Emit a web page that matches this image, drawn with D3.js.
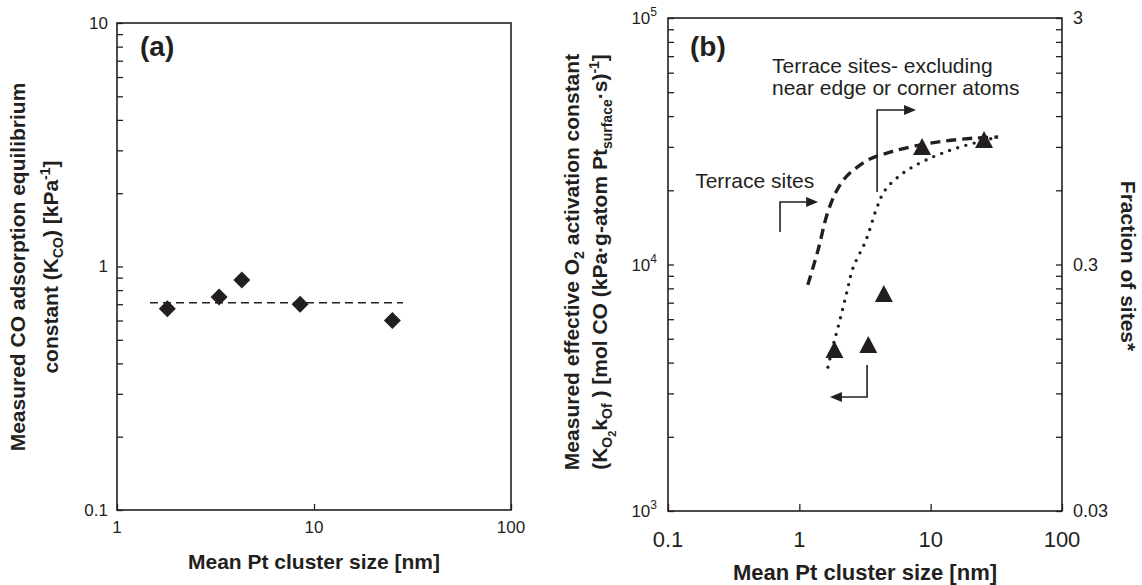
<!DOCTYPE html>
<html><head><meta charset="utf-8">
<script src="https://cdn.jsdelivr.net/npm/d3@7"></script>
<style>
body{margin:0;background:#fff;}
svg{display:block;font-family:"Liberation Sans",Arial,Helvetica,sans-serif;}
</style></head><body>
<svg id="c" width="1142" height="585"></svg>
<script>
// ---------- data ----------
// Panel (a): CO adsorption equilibrium constant vs cluster size
const sizeA = [1.8, 3.3, 4.3, 8.5, 25];
const kCO = [0.67, 0.75, 0.88, 0.70, 0.60];
const kCOAvgX = [1.47, 28.3];
const kCOAvgY = [0.71, 0.71];
// Panel (b): effective O2 activation constant vs cluster size
const sizeB = [1.85, 3.35, 4.4, 8.6, 25.5];
const kO2 = [4500, 4710, 7590, 30000, 32000];
// Fraction of sites curves (right axis)
const terraceX = [1.16, 1.39, 1.63, 1.90, 2.23, 2.70, 3.45, 4.91, 7.60, 12.9, 21.8, 32.6];
const terraceF = [0.248, 0.344, 0.481, 0.590, 0.673, 0.738, 0.804, 0.857, 0.908, 0.951, 0.977, 0.987];
const terraceExclX = [1.65, 1.81, 2.04, 2.31, 2.56, 3.22, 3.91, 4.50, 6.17, 9.23, 15.9, 32.6];
const terraceExclF = [0.115, 0.141, 0.179, 0.234, 0.290, 0.377, 0.513, 0.601, 0.705, 0.796, 0.891, 0.987];
// tick labels
const xTicksA = [1, 10, 100];
const yTicksA = [0.1, 1, 10];
const xTicksB = [0.1, 1, 10, 100];
const yTicksB = [1e3, 1e4, 1e5];
const yTicksBExp = ["3", "4", "5"];
const yTicksB2 = [0.03, 0.3, 3];
// annotation arrows (data units: size, left-axis value)
const arrowTerrace = [[0.713, 13550], [0.713, 17930], [1.39, 17930]];
const arrowExcl = [[3.91, 19680], [3.91, 42360], [7.74, 42360]];
const arrowTri = [[3.28, 3910], [3.28, 2900], [1.71, 2900]];

// ---------- setup ----------
const ink = "#231f20";
const svg = d3.select("#c");

const xA = d3.scaleLog().domain([1, 100]).range([117, 511]);
const yA = d3.scaleLog().domain([0.1, 10]).range([510, 23]);
const xB = d3.scaleLog().domain([0.1, 100]).range([668, 1062]);
const yB = d3.scaleLog().domain([1e3, 1e5]).range([511, 18]);
const yB2 = d3.scaleLog().domain([0.03, 3]).range([511, 18]);

function rich(sel, segs) {
  let cur = 0;
  segs.forEach(s => {
    const sh = s.s || 0;
    const t = sel.append("tspan").attr("dy", sh - cur).text(s.t);
    if (s.f) t.attr("font-size", s.f);
    cur = sh;
  });
}

// ---------- Panel (a) ----------
const gA = svg.append("g");
gA.append("g").attr("transform", `translate(${xA.range()[0]},0)`)
  .call(d3.axisLeft(yA).tickValues(yA.ticks()).tickSize(-6).tickFormat(""))
  .call(g => g.select(".domain").remove())
  .call(g => g.selectAll("line").attr("stroke", ink).attr("stroke-width", 1.3));
gA.append("g").attr("transform", `translate(0,${yA.range()[0]})`)
  .call(d3.axisBottom(xA).tickValues(xTicksA).tickSize(-6).tickFormat(""))
  .call(g => g.select(".domain").remove())
  .call(g => g.selectAll("line").attr("stroke", ink).attr("stroke-width", 1.3));
gA.append("rect").attr("x", xA.range()[0]).attr("y", yA.range()[1])
  .attr("width", xA.range()[1] - xA.range()[0]).attr("height", yA.range()[0] - yA.range()[1])
  .attr("fill", "none").attr("stroke", ink).attr("stroke-width", 1.6);
gA.selectAll("text.yl").data(yTicksA).join("text").attr("class", "yl")
  .attr("x", 108).attr("y", d => yA(d)).attr("dy", "0.35em")
  .attr("text-anchor", "end").attr("font-size", 17).attr("fill", ink).text(d => d);
gA.selectAll("text.xl").data(xTicksA).join("text").attr("class", "xl")
  .attr("x", d => xA(d)).attr("y", 533)
  .attr("text-anchor", "middle").attr("font-size", 17).attr("fill", ink).text(d => d);
gA.append("text").attr("x", 314).attr("y", 569).attr("text-anchor", "middle")
  .attr("font-size", 21).attr("font-weight", "bold").attr("fill", ink)
  .text("Mean Pt cluster size [nm]");
gA.append("text").attr("transform", "translate(25,267) rotate(-90)").attr("text-anchor", "middle")
  .attr("font-size", 21).attr("font-weight", "bold").attr("fill", ink)
  .text("Measured CO adsorption equilibrium");
rich(gA.append("text").attr("transform", "translate(58,267) rotate(-90)").attr("text-anchor", "middle")
  .attr("font-size", 21).attr("font-weight", "bold").attr("fill", ink), [
  {t: "constant (K"}, {t: "CO", s: 5, f: 14}, {t: ") [kPa"}, {t: "-1", s: -8, f: 14}, {t: "]"}
]);
gA.append("text").attr("x", 140).attr("y", 56).attr("font-size", 28).attr("font-weight", "bold")
  .attr("fill", ink).text("(a)");
gA.append("path").datum(kCOAvgX.map((x, i) => [x, kCOAvgY[i]]))
  .attr("d", d3.line().x(d => xA(d[0])).y(d => yA(d[1])))
  .attr("fill", "none").attr("stroke", ink).attr("stroke-width", 1.6).attr("stroke-dasharray", "8,5");
gA.selectAll("path.dm").data(sizeA).join("path").attr("class", "dm")
  .attr("transform", (d, i) => `translate(${xA(d)},${yA(kCO[i])})`)
  .attr("d", "M0,-8.5L8.5,0L0,8.5L-8.5,0Z").attr("fill", ink);

// ---------- Panel (b) ----------
const gB = svg.append("g");
gB.append("g").attr("transform", `translate(${xB.range()[0]},0)`)
  .call(d3.axisLeft(yB).tickValues(yB.ticks()).tickSize(-6).tickFormat(""))
  .call(g => g.select(".domain").remove())
  .call(g => g.selectAll("line").attr("stroke", ink).attr("stroke-width", 1.3));
const rightTicks = yB.ticks().map(v => v * 0.03 / 1000);
gB.append("g").attr("transform", `translate(${xB.range()[1]},0)`)
  .call(d3.axisRight(yB2).tickValues(rightTicks).tickSize(-6).tickFormat(""))
  .call(g => g.select(".domain").remove())
  .call(g => g.selectAll("line").attr("stroke", ink).attr("stroke-width", 1.3));
gB.append("g").attr("transform", `translate(0,${yB.range()[0]})`)
  .call(d3.axisBottom(xB).tickValues(xTicksB).tickSize(-7).tickFormat(""))
  .call(g => g.select(".domain").remove())
  .call(g => g.selectAll("line").attr("stroke", ink).attr("stroke-width", 1.3));
gB.append("rect").attr("x", xB.range()[0]).attr("y", yB.range()[1])
  .attr("width", xB.range()[1] - xB.range()[0]).attr("height", yB.range()[0] - yB.range()[1])
  .attr("fill", "none").attr("stroke", ink).attr("stroke-width", 1.6);
gB.selectAll("text.yl").data(yTicksB).join("text").attr("class", "yl")
  .attr("x", 657).attr("y", d => yB(d) + 6)
  .attr("text-anchor", "end").attr("font-size", 17).attr("fill", ink)
  .each(function (d, i) {
    const t = d3.select(this);
    t.append("tspan").text("10");
    t.append("tspan").attr("dy", -8).attr("font-size", 12).text(yTicksBExp[i]);
  });
gB.selectAll("text.yr").data(yTicksB2).join("text").attr("class", "yr")
  .attr("x", 1073).attr("y", d => yB2(d)).attr("dy", "0.35em")
  .attr("font-size", 18).attr("fill", ink).text(d => d);
gB.selectAll("text.xl").data(xTicksB).join("text").attr("class", "xl")
  .attr("x", d => xB(d)).attr("y", 547)
  .attr("text-anchor", "middle").attr("font-size", 22).attr("fill", ink).text(d => d);
gB.append("text").attr("x", 865).attr("y", 580).attr("text-anchor", "middle")
  .attr("font-size", 22).attr("font-weight", "bold").attr("fill", ink)
  .text("Mean Pt cluster size [nm]");
rich(gB.append("text").attr("transform", "translate(579,262) rotate(-90)").attr("text-anchor", "middle")
  .attr("font-size", 21).attr("font-weight", "bold").attr("fill", ink), [
  {t: "Measured effective O"}, {t: "2", s: 5, f: 14}, {t: " activation constant"}
]);
rich(gB.append("text").attr("transform", "translate(607,262) rotate(-90)").attr("text-anchor", "middle")
  .attr("font-size", 21).attr("font-weight", "bold").attr("fill", ink), [
  {t: "(K"}, {t: "O", s: 5, f: 14}, {t: "2", s: 9, f: 11}, {t: "k"}, {t: "Of", s: 5, f: 14},
  {t: " ) [mol CO (kPa·g-atom Pt"}, {t: "surface", s: 5, f: 14}, {t: "·s)"}, {t: "-1", s: -8, f: 14}, {t: "]"}
]);
gB.append("text").attr("transform", "translate(1121,266) rotate(90)").attr("text-anchor", "middle")
  .attr("font-size", 21).attr("font-weight", "bold").attr("fill", ink)
  .text("Fraction of sites*");
gB.append("text").attr("x", 690).attr("y", 56).attr("font-size", 28).attr("font-weight", "bold")
  .attr("fill", ink).text("(b)");

const lineR = d3.line().x(d => xB(d[0])).y(d => yB2(d[1])).curve(d3.curveCatmullRom.alpha(0.5));
gB.append("path").datum(terraceX.map((x, i) => [x, terraceF[i]])).attr("d", lineR)
  .attr("fill", "none").attr("stroke", ink).attr("stroke-width", 3.4).attr("stroke-dasharray", "10,6");
gB.append("path").datum(terraceExclX.map((x, i) => [x, terraceExclF[i]])).attr("d", lineR)
  .attr("fill", "none").attr("stroke", ink).attr("stroke-width", 3.4)
  .attr("stroke-linecap", "round").attr("stroke-dasharray", "0,8.5");
gB.selectAll("path.tr").data(sizeB).join("path").attr("class", "tr")
  .attr("transform", (d, i) => `translate(${xB(d)},${yB(kO2[i])})`)
  .attr("d", "M0,-9L9,8L-9,8Z").attr("fill", ink);

function arrow(pts) {
  const p = pts.map(d => [xB(d[0]), yB(d[1])]);
  const n = p.length;
  const tip = p[n - 1], prev = p[n - 2];
  const dx = tip[0] - prev[0], dy = tip[1] - prev[1];
  const L = Math.hypot(dx, dy), ux = dx / L, uy = dy / L;
  const hl = 12, hw = 5;
  const base = [tip[0] - ux * hl, tip[1] - uy * hl];
  const line = p.slice(0, n - 1).concat([base]);
  gB.append("path").attr("d", d3.line()(line)).attr("fill", "none")
    .attr("stroke", ink).attr("stroke-width", 1.6);
  gB.append("path").attr("d", d3.line()([tip, [base[0] - uy * hw, base[1] + ux * hw], [base[0] + uy * hw, base[1] - ux * hw]]) + "Z")
    .attr("fill", ink);
}
arrow(arrowTerrace);
arrow(arrowExcl);
arrow(arrowTri);

gB.append("text").attr("x", xB(0.161)).attr("y", yB(20400)).attr("font-size", 21).attr("fill", ink)
  .text("Terrace sites");
const ex = gB.append("text").attr("x", xB(0.619)).attr("y", yB(59800)).attr("font-size", 21).attr("fill", ink);
ex.append("tspan").text("Terrace sites- excluding");
ex.append("tspan").attr("x", xB(0.619)).attr("dy", 22).text("near edge or corner atoms");
</script>
</body></html>
